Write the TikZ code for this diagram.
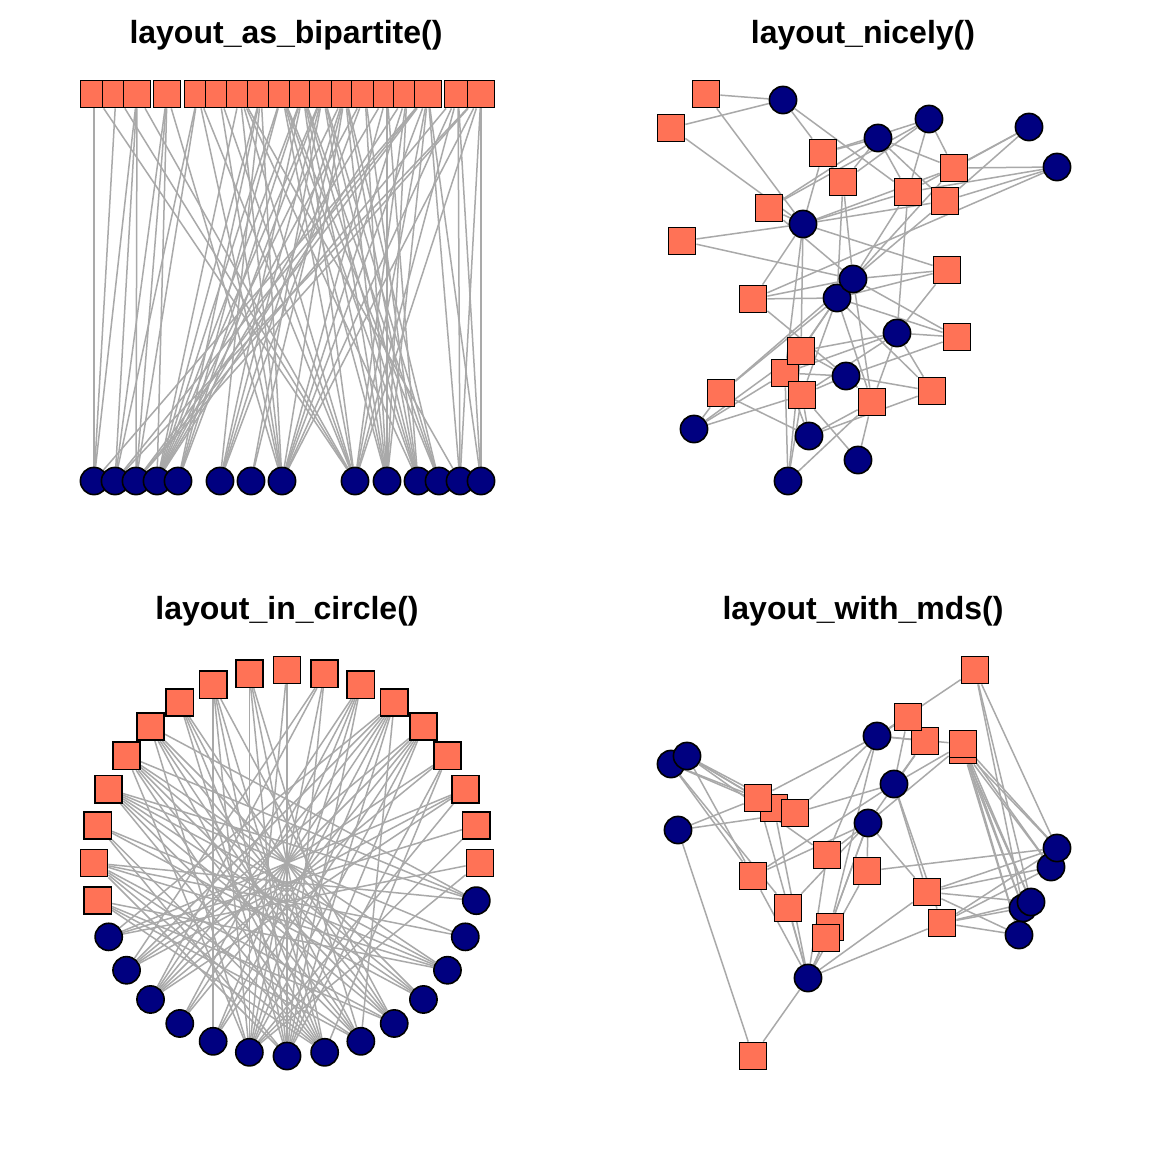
\documentclass[tikz,border=0pt]{standalone}
\usepackage{fontspec}
\setmainfont{Liberation Sans}
\usetikzlibrary{backgrounds}
\definecolor{VertexCoral}{RGB}{255, 114, 86}
\definecolor{VertexNavy}{RGB}{0, 0, 128}
\definecolor{EdgeGray}{RGB}{169, 169, 169}
\pgfdeclarelayer{paper}
\pgfdeclarelayer{edges}
\pgfsetlayers{paper,edges,main}
\newcommand{\nicelyedges}{A/a,A/f,B/a,B/f,C/a,C/b,C/c,C/f,D/b,D/c,D/g,D/h,E/b,E/c,E/d,E/e,E/f,E/g,F/a,F/b,F/c,F/d,F/e,F/f,F/g,F/i,G/c,G/d,G/e,G/f,G/g,H/b,H/c,H/f,H/g,I/f,I/g,J/f,J/g,J/h,J/i,K/e,K/f,K/g,K/h,K/j,L/g,L/h,L/i,L/j,M/f,M/h,M/i,M/j,M/k,M/n,N/f,N/h,N/i,N/j,N/k,N/l,N/n,O/h,O/i,O/j,O/k,O/l,O/m,O/n,P/g,P/h,P/k,P/l,Q/g,Q/h,Q/i,Q/j,Q/l,Q/m,Q/n,R/h,R/i,R/j,R/l}
\newcommand{\mdsedges}{1/6,1/7,1/11,1/12,2/6,2/7,2/8,2/9,2/11,3/6,3/8,3/17,4/1,4/2,4/3,4/4,4/6,4/8,4/9,4/13,5/2,5/3,5/4,5/8,5/11,5/15,5/16,6/3,6/4,6/9,6/10,6/11,6/12,6/13,6/14,6/15,7/6,7/7,7/9,7/10,7/11,7/12,7/13,7/14,7/15,7/16,7/17,8/1,8/4,8/5,8/10,8/15,8/16,9/4,9/5,9/15,9/16,10/1,10/4,10/5,10/15,10/16,11/1,11/4,11/5,11/16,12/4,12/5,12/15,12/16}

\begin{document}
\begin{tikzpicture}[x=0.5pt, y=-0.5pt,
    sq/.style={draw=black, fill=VertexCoral, line width=0.8pt, minimum size=13.6pt, inner sep=0pt},
    dot/.style={circle, draw=black, fill=VertexNavy, line width=0.8pt, minimum size=13.6pt, inner sep=0pt},
    lnk/.style={EdgeGray, line width=0.75pt},
    ttl/.style={font=\bfseries\fontsize{16}{19}\selectfont, anchor=base}]
    \begin{pgfonlayer}{paper}
        \fill[white] (0,0) rectangle (1152,1152);
    \end{pgfonlayer}
    \useasboundingbox (0,0) rectangle (1152,1152);

    \node[ttl] (tbp) at (286,43) {layout\_as\_bipartite()};
    \node[ttl] (tni) at (863,43) {layout\_nicely()};
    \node[ttl] (tci) at (287,619) {layout\_in\_circle()};
    \node[ttl] (tmd) at (863,619) {layout\_with\_mds()};

    % bipartite
    \foreach \v/\x in {A/94,B/116,C/137,D/167,H/198,I/219,K/240,P/261,M/282,N/303,O/323,Q/345,R/365,L/387,J/407,F/428,G/458,E/481}
        \node[sq] (bp\v) at (\x,94) {};
    \foreach \v/\x in {a/94,b/115,c/136,h/157,k/178,l/220,m/251,g/282,f/355,i/387,j/418,n/439,e/460,d/481}
        \node[dot] (bp\v) at (\x,481) {};

    % nicely
    \foreach \v/\x/\y in {A/706/94,B/671/128,C/823/153,D/843/182,E/954/168,F/908/192,G/945/201,H/769/208,I/682/241,J/947/270,K/753/299,L/957/337,N/785/373,M/801/351,O/802/395,P/721/393,Q/872/402,R/932/391}
        \node[sq] (ni\v) at (\x,\y) {};
    \foreach \v/\x/\y in {a/783/100,b/929/119,c/878/138,d/1029/127,e/1057/167,f/803/224,h/837/298,g/853/279,i/897/333,j/846/376,k/694/429,l/809/436,m/858/460,n/788/481}
        \node[dot] (ni\v) at (\x,\y) {};

    % circle
    \foreach \v [count=\k from 0] in {A,B,C,D,E,F,G,H,I,J,K,L,M,N,O,P,Q,R}
        \node[sq] (ci\v) at ({287+193*cos(11.25*\k)},{863-193*sin(11.25*\k)}) {};
    \foreach \v [count=\k from 18] in {a,b,c,d,e,f,g,h,i,j,k,l,m,n}
        \node[dot] (ci\v) at ({287+193*cos(11.25*\k)},{863-193*sin(11.25*\k)}) {};

    % mds
    \foreach \v/\x/\y in {5/963/750,4/963/744,1/975/670,3/925/741,2/908/717,7/774/808,6/758/798,8/795/813,9/827/855,10/867/871,11/753/876,12/788/908,13/830/927,14/826/938,15/927/892,16/942/923,17/753/1056}
        \node[sq] (mds\v) at (\x,\y) {};
    \foreach \v/\x/\y in {1/671/764,2/687/756,3/678/830,4/877/736,5/894/784,6/868/823,7/808/978,9/1051/867,8/1057/848,11/1023/908,10/1031/902,12/1019/935}
        \node[dot] (mdc\v) at (\x,\y) {};

    \begin{pgfonlayer}{edges}
        \foreach \p in {bp,ni,ci}
            \foreach \s/\c in \nicelyedges
                \draw[lnk] (\p\s) -- (\p\c);
        \foreach \c/\s in \mdsedges
            \draw[lnk] (mdc\c) -- (mds\s);
    \end{pgfonlayer}
\end{tikzpicture}
\end{document}
